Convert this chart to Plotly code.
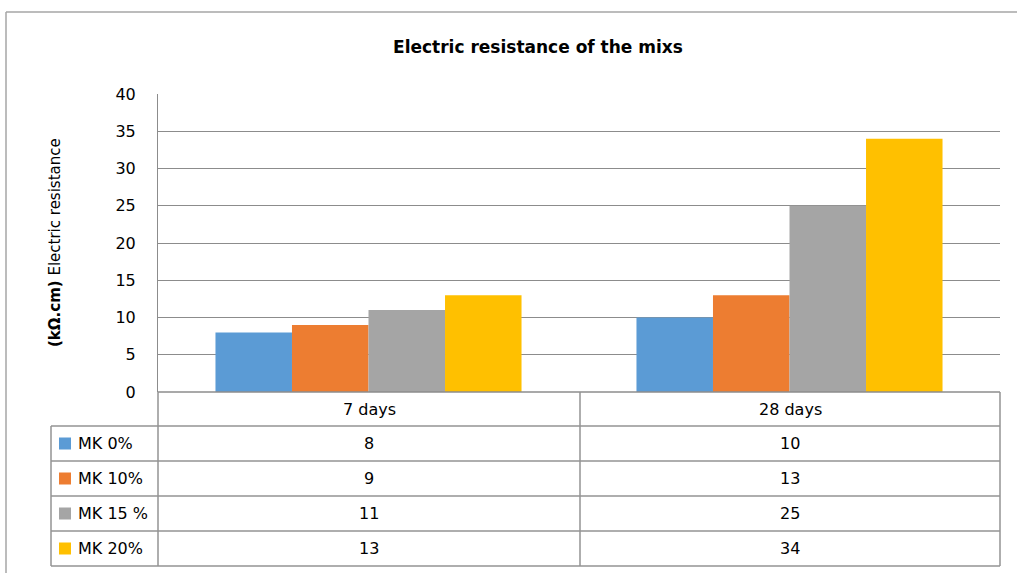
import plotly.graph_objects as go

# Data
categories = ["7 days", "28 days"]
series_names = ["MK 0%", "MK 10%", "MK 15 %", "MK 20%"]
mk0 = [8, 10]
mk10 = [9, 13]
mk15 = [11, 25]
mk20 = [13, 34]
series_values = [mk0, mk10, mk15, mk20]
colors = ["#5B9BD5", "#ED7D31", "#A5A5A5", "#FFC000"]
y_ticks = [0, 5, 10, 15, 20, 25, 30, 35, 40]

W, H = 1017, 573
L, R, T, B = 158, 1000, 94, 392  # plot area in pixels

def px(x):
    return (x - L) / (R - L)

def py(y):
    return (B - y) / (B - T)

FONT = "DejaVu Sans"
GRID = "#8C8C8C"
TBL = "#939393"

fig = go.Figure()
for name, vals, c in zip(series_names, series_values, colors):
    fig.add_trace(go.Bar(x=categories, y=vals, name=name, marker_color=c,
                         marker_line_width=0))

shapes = []
annotations = []

def line(x0, y0, x1, y1, color=TBL, width=1.5, layer="above"):
    shapes.append(dict(type="line", xref="paper", yref="paper",
                       x0=px(x0), y0=py(y0), x1=px(x1), y1=py(y1),
                       line=dict(color=color, width=width), layer=layer))

def label(x, y, text, size=16, xanchor="center"):
    annotations.append(dict(xref="paper", yref="paper", x=px(x), y=py(y),
                            text=text, showarrow=False, xanchor=xanchor,
                            yanchor="middle",
                            font=dict(family=FONT, size=size, color="#000")))

# outer chart border
line(6, 12, 1030, 12, color="#A6A6A6", width=1.5)
line(6, 12, 6, 590, color="#A6A6A6", width=1.5)

# category axis baseline
line(L, B, R, B, color=GRID, width=1.5)

# data table grid
rows = [426, 461, 496, 531, 566]
for y in rows:
    line(51, y, R, y)
line(51, 426, 51, 566)
line(L, B, L, 566, color=TBL)
line(580, B, 580, 566)
line(R, B, R, 566)

col_centers = [369, 790]
for cat, xc in zip(categories, col_centers):
    label(xc, 409, cat)

for i, (name, vals, c) in enumerate(zip(series_names, series_values, colors)):
    yc = (rows[i] + rows[i + 1]) / 2
    shapes.append(dict(type="rect", xref="paper", yref="paper",
                       x0=px(59), x1=px(71), y0=py(yc - 6), y1=py(yc + 6),
                       fillcolor=c, line=dict(width=0)))
    label(76, yc, name, xanchor="left")
    for v, xc in zip(vals, col_centers):
        label(xc, yc, str(v))

# y-axis title
annotations.append(dict(xref="paper", yref="paper", x=px(55), y=py(243),
                        text="<b>(kΩ.cm)</b> Electric resistance",
                        textangle=-90, showarrow=False,
                        xanchor="center", yanchor="middle",
                        font=dict(family=FONT, size=15, color="#000")))

fig.update_layout(
    width=W, height=H,
    margin=dict(l=L, r=W - R, t=T, b=H - B),
    paper_bgcolor="white", plot_bgcolor="white",
    showlegend=False,
    barmode="group", bargap=0.273, bargroupgap=0,
    title=dict(text="<b>Electric resistance of the mixs</b>", x=538 / W,
               xanchor="center", y=1 - 47 / H, yanchor="middle",
               font=dict(family=FONT, size=17, color="#000")),
    xaxis=dict(showticklabels=False, showgrid=False, zeroline=False,
               showline=False, ticks=""),
    yaxis=dict(range=[0, 40], tickvals=y_ticks, showgrid=True, gridcolor=GRID,
               gridwidth=1, zeroline=False, showline=True, linecolor=GRID,
               linewidth=1, ticks="", ticklabelstandoff=18,
               tickfont=dict(family=FONT, size=16, color="#000")),
    shapes=shapes,
    annotations=annotations,
)

fig.write_html("out.html")
